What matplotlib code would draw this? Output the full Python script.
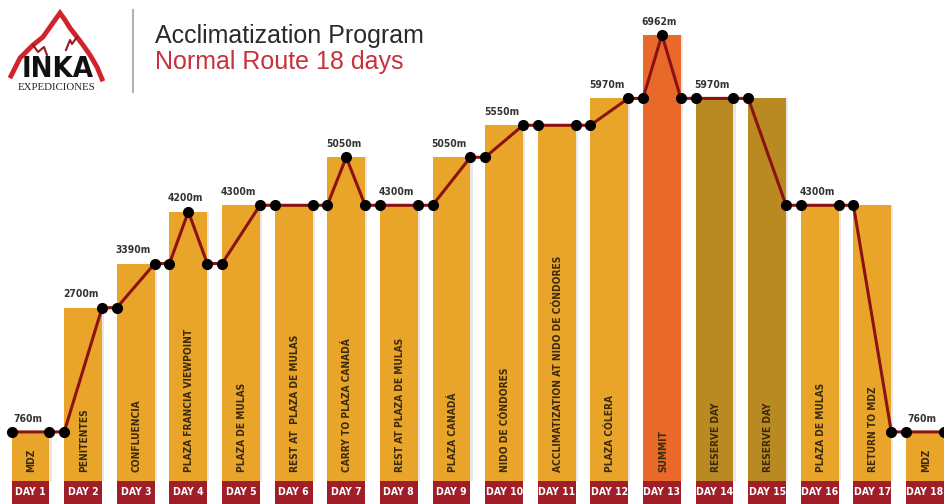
import matplotlib.pyplot as plt
from matplotlib import font_manager as fm

# data
days = [f"DAY {i}" for i in range(1, 19)]
bar_alt = [760, 2700, 3390, 4200, 4300, 4300, 5050, 4300, 5050,
           5550, 5550, 5970, 6962, 5970, 5970, 4300, 4300, 760]
stages = ["MDZ", "PENITENTES", "CONFLUENCIA", "PLAZA FRANCIA VIEWPOINT",
          "PLAZA DE MULAS", "REST AT  PLAZA DE MULAS", "CARRY TO PLAZA CANADÁ",
          "REST AT PLAZA DE MULAS", "PLAZA CANADÁ", "NIDO DE CÓNDORES",
          "ACCLIMATIZATION AT NIDO DE CÓNDORES", "PLAZA CÓLERA", "SUMMIT",
          "RESERVE DAY", "RESERVE DAY", "PLAZA DE MULAS", "RETURN TO MDZ", "MDZ"]
kind = ["camp"] * 12 + ["summit", "reserve", "reserve"] + ["camp"] * 3
alt_labels = ["760m", "2700m", "3390m", "4200m", "4300m", "", "5050m", "4300m",
              "5050m", "5550m", "", "5970m", "6962m", "5970m", "", "4300m", "", "760m"]

# route line: altitude at start, peak (if any) and end of every day
route_start = [760, 760, 2700, 3390, 3390, 4300, 4300, 4300, 4300,
               5050, 5550, 5550, 5970, 5970, 5970, 4300, 4300, 760]
route_peak = [None, None, None, 4200, None, None, 5050, None, None,
              None, None, None, 6962, None, None, None, None, None]
route_end = [760, 2700, 3390, 3390, 4300, 4300, 4300, 4300, 5050,
             5550, 5550, 5970, 5970, 5970, 4300, 4300, 760, 760]

colors = {"camp": "#E8A52A", "summit": "#E9692B", "reserve": "#B98A22"}
box_red = "#A01E28"
line_red = "#8C1212"


# look for a condensed / narrow face, the labels in the picture are very narrow
def find_narrow(bold):
    best = None
    for f in fm.fontManager.ttflist:
        name = (f.name + " " + f.fname).lower()
        stretch = str(f.stretch).lower()
        narrowish = ("narrow" in name or "condensed" in name
                     or stretch in ("condensed", "semi-condensed", "extra-condensed")
                     or (stretch.isdigit() and int(stretch) < 500))
        if not narrowish or "italic" in name or "oblique" in name:
            continue
        w = f.weight if isinstance(f.weight, int) else (700 if "bold" in str(f.weight) else 400)
        score = abs(w - (700 if bold else 400))
        if best is None or score < best[0]:
            best = (score, f.fname)
    return best[1] if best else None


nb = find_narrow(True)
if nb:
    fp_bold = fm.FontProperties(fname=nb)
    scale = 1.0
else:
    fp_bold = fm.FontProperties(family="DejaVu Sans", weight="bold", stretch="condensed")
    scale = 0.8

fig = plt.figure(figsize=(9.45, 5.04), dpi=100)
ax = fig.add_axes([0, 0, 1, 1])
ax.set_xlim(0.42, 18.38)
ax.set_ylim(-366, 7507)
ax.axis("off")

x = list(range(1, 19))
w = 0.72

# soft shadow on the right of each bar
ax.bar([i + 0.04 for i in x], bar_alt, width=w, color="#d0d0d0", alpha=0.5, zorder=1)
ax.bar(x, bar_alt, width=w, color=[colors[k] for k in kind], zorder=2)
ax.bar(x, [366] * 18, bottom=-366, width=w, color=box_red, zorder=2)

for i, d in enumerate(x):
    ax.text(d, -185, days[i], ha="center", va="center", color="white",
            fontproperties=fp_bold, fontsize=7.5 * scale, zorder=5)
    ax.text(d + 0.02, 140, stages[i], rotation=90, ha="center", va="bottom",
            color="#3b2a0c", fontproperties=fp_bold, fontsize=7.3 * scale, zorder=5)
    if alt_labels[i]:
        top = route_peak[i] if route_peak[i] else bar_alt[i]
        ax.text(d - 0.05, top + 160, alt_labels[i], ha="center", va="baseline",
                color="#333333", fontproperties=fp_bold, fontsize=7.4 * scale, zorder=5)

# route line with markers at bar edges
lx, ly = [], []
for i, d in enumerate(x):
    lx.append(d - w / 2)
    ly.append(route_start[i])
    if route_peak[i]:
        lx.append(d)
        ly.append(route_peak[i])
    lx.append(d + w / 2)
    ly.append(route_end[i])
ax.plot(lx, ly, color=line_red, lw=2.2, zorder=6)
ax.plot(lx, ly, "o", color="black", ms=7, zorder=7)

# header: logo + title, in pixel coordinates
hx = fig.add_axes([0, 0, 1, 1], zorder=10)
hx.set_xlim(0, 945)
hx.set_ylim(504, 0)
hx.axis("off")
hx.patch.set_alpha(0)

mx = [11, 20, 33, 43, 50, 55, 60, 65, 70, 77, 83, 90, 97, 102]
my = [76, 58, 45, 37, 27, 20, 13, 20, 28, 37, 45, 55, 67, 79]
hx.plot(mx, my, color="#D0232B", lw=3.5, solid_joinstyle="miter")
hx.plot([33, 38, 44, 47], [45, 52, 47, 55], color="#9c1a20", lw=1.5)
hx.plot([77, 72, 70, 66], [37, 44, 40, 50], color="#9c1a20", lw=1.5)
hx.text(58, 77, "INKA", ha="center", va="baseline", fontproperties=fp_bold,
        fontsize=21 * scale, color="#111111")
hx.text(57, 90, "EXPEDICIONES", ha="center", va="baseline", fontsize=7.8,
        family=["Liberation Serif", "DejaVu Serif"], color="#222222")
hx.plot([133, 133], [10, 92], color="#a0a0a0", lw=1.5, alpha=0.8)

hx.text(155, 43, "Acclimatization Program", ha="left", va="baseline",
        fontsize=18, family=["Liberation Sans", "DejaVu Sans"], color="#2a2a2a")
hx.text(155, 69, "Normal Route 18 days", ha="left", va="baseline",
        fontsize=18, family=["Liberation Sans", "DejaVu Sans"], color="#C8323C")

fig.savefig("out.png", dpi=100)
